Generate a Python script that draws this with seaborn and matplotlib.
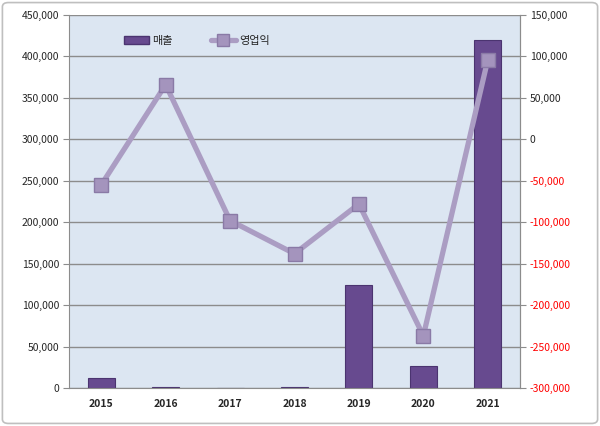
import numpy as np
import pandas as pd
import matplotlib
matplotlib.use("Agg")
import matplotlib.pyplot as plt
import seaborn as sns
from matplotlib.patches import FancyBboxPatch
from matplotlib.lines import Line2D
from matplotlib.patches import Patch
from matplotlib.ticker import FuncFormatter

# data
years = ["2015", "2016", "2017", "2018", "2019", "2020", "2021"]
sales = [12000, 800, 0, 1500, 124000, 26500, 420000]
op_profit = [-55000, 66000, -98000, -138000, -78000, -237000, 96000]

df = pd.DataFrame({"year": years, "sales": sales, "op": op_profit})

sns.set_style("white")
plt.rcParams['font.family'] = ['Noto Sans CJK KR', 'DejaVu Sans']

fig = plt.figure(figsize=(6, 4.26), dpi=100)
ax = fig.add_axes([69/600, 1 - 388/426, 451/600, 373/426])
ax.set_facecolor("#dce6f2")

bar_color = "#674a8f"
line_color = "#ab9dc3"
mk_face = "#a494bd"
mk_edge = "#8a7aa6"

sns.barplot(data=df, x="year", y="sales", ax=ax, color=bar_color,
            width=0.42, edgecolor="#4b3470", linewidth=0.8, saturation=1)
ax.set_ylim(0, 450000)
ax.set_yticks(np.arange(0, 450001, 50000))
ax.yaxis.set_major_formatter(FuncFormatter(lambda v, p: f"{v:,.0f}"))
ax.grid(axis="y", color="#8c8c8c", linewidth=1)
ax.set_axisbelow(True)
ax.set_xlabel("")
ax.set_ylabel("")
ax.set_xlim(-0.5, 6.5)

# x ticks at category boundaries
ax.tick_params(axis="x", which="major", length=0, labelsize=7.5, pad=8)
ax.set_xticks(np.arange(-0.5, 7, 1), minor=True)
ax.tick_params(axis="x", which="minor", length=4, color="#8c8c8c")
ax.tick_params(axis="y", length=4, color="#8c8c8c", labelsize=7.5, pad=3)
for lab in ax.get_xticklabels():
    lab.set_fontweight("bold")
    lab.set_color("#262626")

for s in ["left", "bottom", "right"]:
    ax.spines[s].set_color("#8c8c8c")
ax.spines["top"].set_visible(False)

ax2 = ax.twinx()
sns.pointplot(data=df, x="year", y="op", ax=ax2, color=line_color,
              markers="s", linestyles="-", errorbar=None,
              markersize=9.5, linewidth=3.8, markeredgewidth=1,
              markeredgecolor=mk_edge, markerfacecolor=mk_face)
ax2.set_ylim(-300000, 150000)
ax2.set_yticks(np.arange(-300000, 150001, 50000))
ax2.yaxis.set_major_formatter(FuncFormatter(lambda v, p: f"{v:,.0f}"))
ax2.set_ylabel("")
ax2.set_xlabel("")
ax2.set_xlim(-0.5, 6.5)
ax2.tick_params(axis="y", length=4, color="#8c8c8c", labelsize=7.5, pad=3)
for t, lab in zip(ax2.get_yticks(), ax2.get_yticklabels()):
    lab.set_color("#ff0000" if t < 0 else "#262626")
for s in ["left", "bottom", "top"]:
    ax2.spines[s].set_visible(False)
ax2.spines["right"].set_color("#8c8c8c")

handles = [
    Patch(facecolor=bar_color, edgecolor="#4b3470"),
    Line2D([0], [0], color=line_color, linewidth=3.8, marker="s",
           markersize=8, markerfacecolor=mk_face, markeredgecolor=mk_edge,
           markeredgewidth=1),
]
ax.legend(handles, ["매출", "영업익"], loc="center left", ncol=2,
          bbox_to_anchor=(0.1, 0.93), frameon=False, fontsize=8,
          handlelength=2.2, columnspacing=3.5, handletextpad=0.3)

border = FancyBboxPatch((0.004, 0.006), 0.992, 0.988,
                        boxstyle="round,pad=0,rounding_size=0.01",
                        transform=fig.transFigure, facecolor="none",
                        edgecolor="#bfbfbf", linewidth=1.2)
fig.patches.append(border)

fig.savefig("out.png", dpi=100)
